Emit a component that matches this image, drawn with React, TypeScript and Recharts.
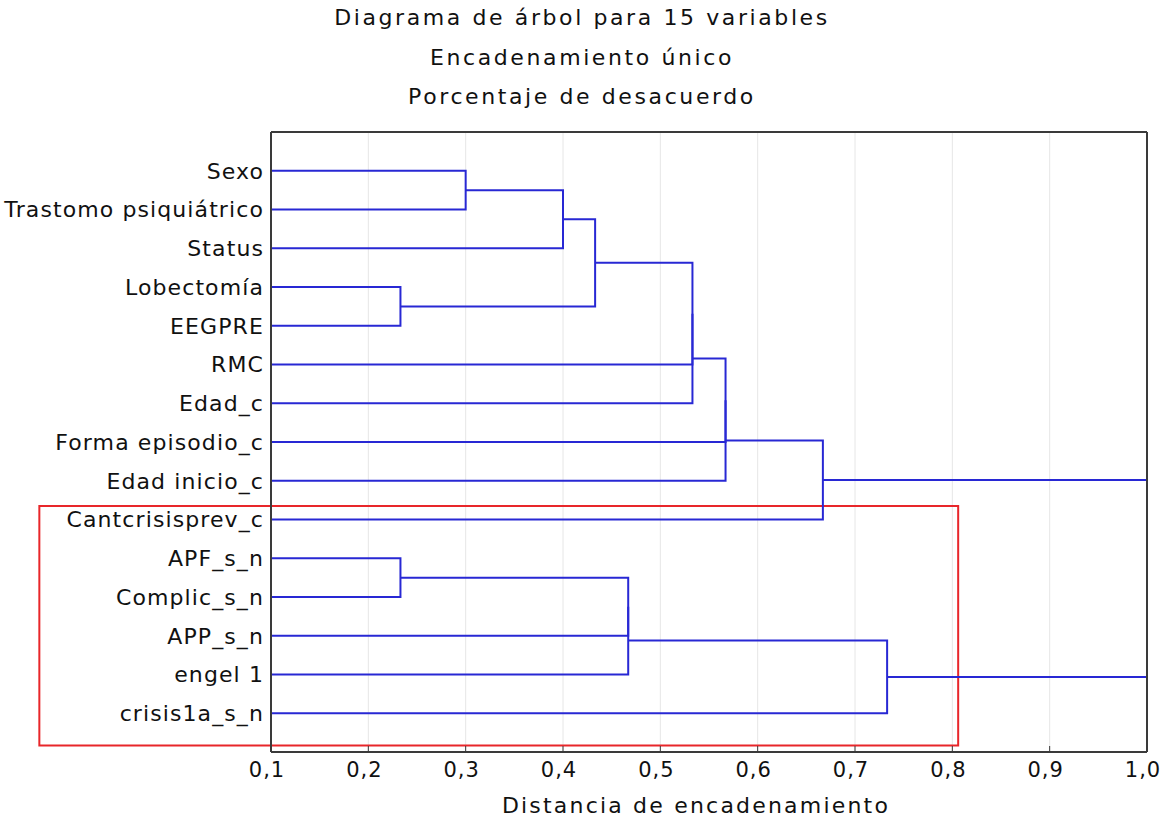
import { ComposedChart, Line, XAxis, YAxis, CartesianGrid, ReferenceArea } from 'recharts'

// leaf order, top to bottom
const leaves = [
  'Sexo', 'Trastomo psiquiátrico', 'Status', 'Lobectomía', 'EEGPRE', 'RMC', 'Edad_c',
  'Forma episodio_c', 'Edad inicio_c', 'Cantcrisisprev_c', 'APF_s_n', 'Complic_s_n',
  'APP_s_n', 'engel 1', 'crisis1a_s_n',
]

// joins in order: node ids 0-14 are leaves, 15+ are the joins below
const joinA = [3, 10, 0, 17, 18, 16, 20, 19, 22, 23, 24, 25, 21, 26]
const joinB = [4, 11, 1, 2, 15, 12, 13, 5, 6, 7, 8, 9, 14, 27]
const joinDist = [0.233, 0.233, 0.3, 0.4, 0.433, 0.467, 0.467, 0.533, 0.533, 0.567, 0.567, 0.667, 0.733, 1.0]

const xTicks = [0.1, 0.2, 0.3, 0.4, 0.5, 0.6, 0.7, 0.8, 0.9, 1.0]
const yTicks = leaves.map((_, i) => i + 1)

// highlight box [x1, x2, y1, y2] in axis units
const boxX = [-0.138, 0.806]
const boxY = [9.65, 15.83]

const titles = ['Diagrama de árbol para 15 variables', 'Encadenamiento único', 'Porcentaje de desacuerdo']

const BLUE = '#2828d4'
const AXIS = '#3a3a3a'
const FONT = '"DejaVu Sans", Verdana, sans-serif'

function buildBrackets() {
  const nodes = leaves.map((_, i) => ({ x: 0.1, y: i + 1 }))
  return joinA.map((a, i) => {
    const na = nodes[a]
    const nb = nodes[joinB[i]]
    const h = joinDist[i]
    nodes.push({ x: h, y: (na.y + nb.y) / 2 })
    return [
      { x: na.x, y: na.y },
      { x: h, y: na.y },
      { x: h, y: nb.y },
      { x: nb.x, y: nb.y },
    ]
  })
}

export default function App() {
  const brackets = buildBrackets()
  const yTickStyle = { fontSize: 22, fill: '#111', fontFamily: FONT, letterSpacing: 1.1 }
  const xTickStyle = { fontSize: 21, fill: '#111', fontFamily: FONT, letterSpacing: 1, dx: -4 }

  return (
    <div style={{ position: 'absolute', left: 0, top: 0, width: 1162, height: 824, background: '#fff', fontFamily: FONT, color: '#111' }}>
      {titles.map((t, i) => (
        <div
          key={t}
          style={{
            position: 'absolute', left: 282, width: 600, top: 3 + i * 39.5, lineHeight: '30px',
            textAlign: 'center', fontSize: 22, letterSpacing: 2.6,
          }}
        >
          {t}
        </div>
      ))}
      <ComposedChart width={1162} height={824} margin={{ top: 131, right: 14, bottom: 12, left: 6 }}>
        <CartesianGrid horizontal={false} stroke="#e6e6e6" />
        <XAxis
          type="number"
          dataKey="x"
          domain={[0.1, 1.0]}
          ticks={xTicks}
          allowDataOverflow
          height={60}
          tickSize={-6}
          tickMargin={16}
          tickFormatter={v => v.toFixed(1).replace('.', ',')}
          tick={xTickStyle}
          axisLine={{ stroke: AXIS, strokeWidth: 2 }}
          tickLine={{ stroke: AXIS }}
        />
        <XAxis
          xAxisId="t"
          orientation="top"
          type="number"
          domain={[0.1, 1.0]}
          ticks={xTicks}
          allowDataOverflow
          height={1}
          tickSize={-6}
          tick={false}
          axisLine={{ stroke: AXIS, strokeWidth: 2 }}
          tickLine={{ stroke: AXIS }}
        />
        <YAxis
          type="number"
          domain={[0, 16]}
          ticks={yTicks}
          reversed
          allowDataOverflow
          width={265}
          tickSize={0}
          tickMargin={7}
          tickLine={false}
          tickFormatter={v => leaves[v - 1] ?? ''}
          tick={yTickStyle}
          interval={0}
          axisLine={{ stroke: AXIS, strokeWidth: 2 }}
        />
        <YAxis
          yAxisId="r"
          orientation="right"
          type="number"
          domain={[0, 16]}
          ticks={yTicks}
          reversed
          allowDataOverflow
          width={1}
          tickSize={-6}
          tick={false}
          interval={0}
          axisLine={{ stroke: AXIS, strokeWidth: 2 }}
          tickLine={{ stroke: AXIS }}
        />
        {brackets.map((d, i) => (
          <Line
            key={i}
            data={d}
            dataKey="y"
            type="linear"
            stroke={BLUE}
            strokeWidth={2}
            dot={false}
            activeDot={false}
            isAnimationActive={false}
          />
        ))}
        <ReferenceArea
          x1={boxX[0]}
          x2={boxX[1]}
          y1={boxY[0]}
          y2={boxY[1]}
          ifOverflow="visible"
          fill="none"
          stroke="#e8262a"
          strokeWidth={2}
        />
      </ComposedChart>
      <div style={{ position: 'absolute', left: 396, width: 600, top: 791, lineHeight: '30px', textAlign: 'center', fontSize: 22, letterSpacing: 2.2 }}>
        Distancia de encadenamiento
      </div>
    </div>
  )
}
